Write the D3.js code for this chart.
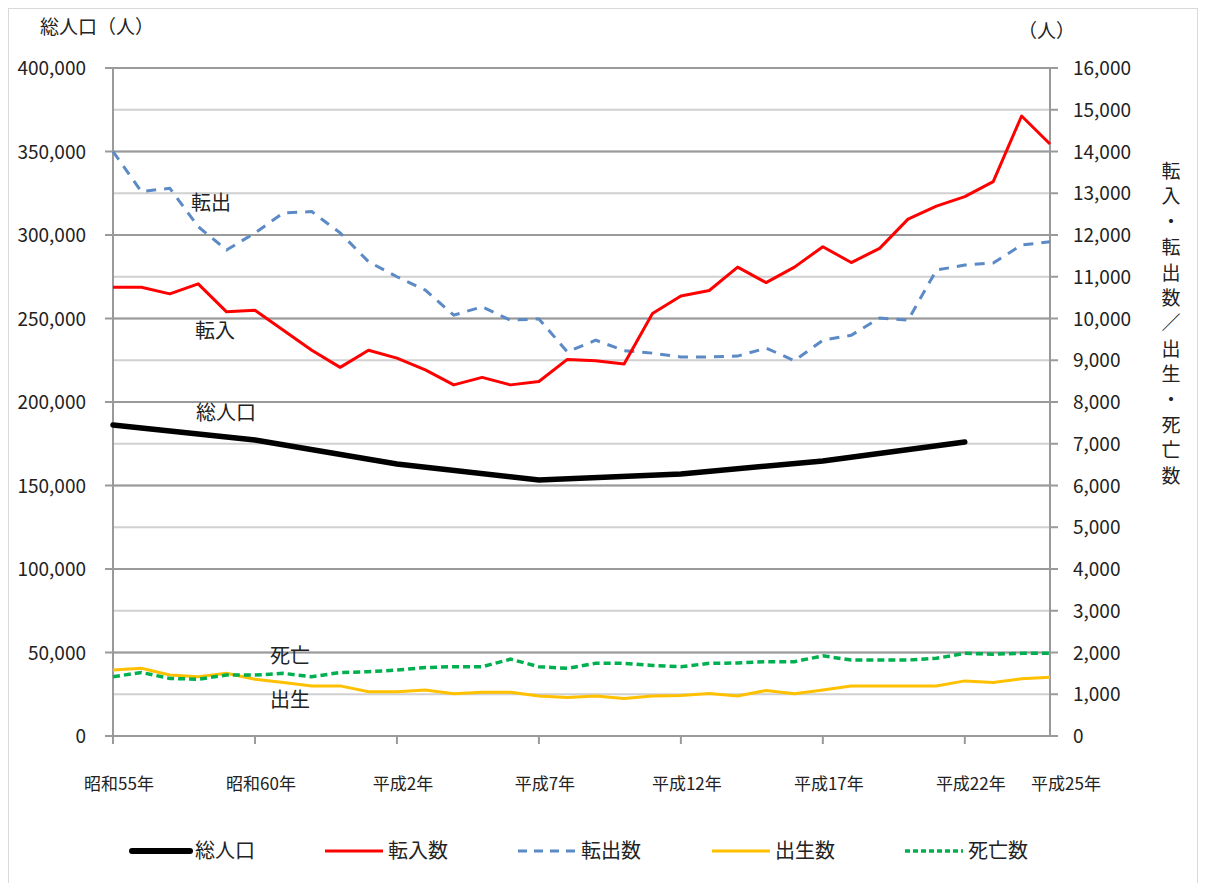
<!DOCTYPE html>
<html>
<head>
<meta charset="utf-8">
<script src="https://cdn.jsdelivr.net/npm/d3@7"></script>
<style>
  body { margin: 0; background: #fff; }
  text { font-family: "Noto Sans CJK JP", "Noto Sans", sans-serif; fill: #222; }
</style>
</head>
<body>
<svg id="chart" width="1205" height="883"></svg>
<script>
// years 昭和55年 (1980) .. 平成25年 (2013)
const years = d3.range(1980, 2014);

const tickYears = [1980, 1985, 1990, 1995, 2000, 2005, 2010, 2013];
const tickLabels = ["昭和55年", "昭和60年", "平成2年", "平成7年", "平成12年", "平成17年", "平成22年", "平成25年"];

// census years for 総人口
const popYears = [1980, 1985, 1990, 1995, 2000, 2005, 2010];
const population = [186200, 177200, 162900, 153300, 156900, 164700, 176000];

const moveIn = [10750, 10750, 10590, 10830, 10160, 10200, 9720, 9240, 8830, 9240,
  9050, 8770, 8410, 8590, 8410, 8490, 9020, 8990, 8910, 10120,
  10540, 10670, 11230, 10860, 11230, 11720, 11340, 11680, 12380, 12690,
  12920, 13280, 14850, 14180];

const moveOut = [14000, 13040, 13120, 12200, 11640, 12050, 12530, 12560, 12050, 11360,
  11000, 10680, 10080, 10280, 9960, 9990, 9200, 9480, 9230, 9170,
  9080, 9080, 9100, 9290, 8990, 9480, 9600, 10010, 9960, 11160,
  11280, 11330, 11760, 11840];

const births = [1580, 1620, 1460, 1420, 1500, 1360, 1280, 1200, 1200, 1060,
  1060, 1100, 1010, 1050, 1050, 960, 920, 960, 900, 960,
  970, 1020, 960, 1090, 1010, 1100, 1200, 1200, 1200, 1200,
  1320, 1280, 1370, 1410];

const deaths = [1420, 1520, 1380, 1360, 1460, 1460, 1500, 1420, 1520, 1540,
  1580, 1640, 1660, 1660, 1840, 1660, 1620, 1740, 1740, 1690,
  1660, 1740, 1750, 1780, 1780, 1920, 1820, 1820, 1820, 1860,
  1980, 1960, 1980, 1980];

const leftTicks = d3.range(0, 400001, 50000);
const rightTicks = d3.range(0, 16001, 1000);

const svg = d3.select("#chart");

// outer frame
svg.append("rect")
  .attr("x", 8.5).attr("y", 8.5)
  .attr("width", 1189).attr("height", 890)
  .attr("fill", "none").attr("stroke", "#d9d9d9");

const x = d3.scaleLinear().domain([1980, 2013]).range([113, 1050]);
const yL = d3.scaleLinear().domain([0, 400000]).range([736, 68]);
const yR = d3.scaleLinear().domain([0, 16000]).range([736, 68]);

// light gridlines (right axis)
svg.append("g").selectAll("line").data(rightTicks).enter().append("line")
  .attr("x1", 113).attr("x2", 1050)
  .attr("y1", d => yR(d)).attr("y2", d => yR(d))
  .attr("stroke", "#d0d0d0").attr("stroke-width", 2);

// major gridlines (left axis)
svg.append("g").selectAll("line").data(leftTicks).enter().append("line")
  .attr("x1", 105).attr("x2", 1050)
  .attr("y1", d => yL(d)).attr("y2", d => yL(d))
  .attr("stroke", "#9a9a9a").attr("stroke-width", 2);

// axes lines
svg.append("line").attr("x1", 113).attr("x2", 113).attr("y1", 68).attr("y2", 744)
  .attr("stroke", "#9a9a9a").attr("stroke-width", 2);
svg.append("line").attr("x1", 1050).attr("x2", 1050).attr("y1", 68).attr("y2", 736)
  .attr("stroke", "#9a9a9a").attr("stroke-width", 2);

// right ticks
svg.append("g").selectAll("line").data(rightTicks).enter().append("line")
  .attr("x1", 1050).attr("x2", 1058)
  .attr("y1", d => yR(d)).attr("y2", d => yR(d))
  .attr("stroke", "#9a9a9a").attr("stroke-width", 2);

// x ticks
svg.append("g").selectAll("line").data(tickYears.slice(0, 7)).enter().append("line")
  .attr("x1", d => x(d)).attr("x2", d => x(d))
  .attr("y1", 736).attr("y2", 744)
  .attr("stroke", "#9a9a9a").attr("stroke-width", 2);

const fmt = d3.format(",");

svg.append("g").selectAll("text").data(leftTicks).enter().append("text")
  .attr("x", 86).attr("y", d => yL(d) + 7)
  .attr("text-anchor", "end")
  .style("font-size", "19px")
  .text(d => fmt(d));

svg.append("g").selectAll("text").data(rightTicks).enter().append("text")
  .attr("x", 1073).attr("y", d => yR(d) + 7)
  .style("font-size", "19px")
  .text(d => fmt(d));

// last label is nudged right so it does not run into 平成22年
svg.append("g").selectAll("text").data(tickYears).enter().append("text")
  .attr("x", (d, i) => x(d) + (i === tickYears.length - 1 ? 16 : 6)).attr("y", 790)
  .attr("text-anchor", "middle")
  .style("font-size", "17px")
  .text((d, i) => tickLabels[i]);

// axis titles
svg.append("text").attr("x", 40).attr("y", 34).style("font-size", "19px").text("総人口（人）");
svg.append("text").attr("x", 1018).attr("y", 38).style("font-size", "19px").text("（人）");
const vtitle = "転入・転出数／出生・死亡数".split("");
svg.append("g").selectAll("text").data(vtitle).enter().append("text")
  .attr("x", 1171).attr("y", (d, i) => 178 + i * 25.4)
  .attr("text-anchor", "middle")
  .style("font-size", "19px")
  .text(d => d);

// series
const lineR = (arr) => d3.line().x((d, i) => x(years[i])).y(d => yR(d))(arr);

svg.append("path").attr("d", lineR(moveOut))
  .attr("fill", "none").attr("stroke", "#5b8ac6").attr("stroke-width", 3)
  .attr("stroke-dasharray", "10,8");

svg.append("path").attr("d", lineR(moveIn))
  .attr("fill", "none").attr("stroke", "#ff0000").attr("stroke-width", 3)
  .attr("stroke-linejoin", "round");

svg.append("path").attr("d", lineR(births))
  .attr("fill", "none").attr("stroke", "#ffc000").attr("stroke-width", 3);

svg.append("path").attr("d", lineR(deaths))
  .attr("fill", "none").attr("stroke", "#00b050").attr("stroke-width", 3.5)
  .attr("stroke-dasharray", "7,4");

svg.append("path")
  .attr("d", d3.line().x((d, i) => x(popYears[i])).y(d => yL(d))(population))
  .attr("fill", "none").attr("stroke", "#000").attr("stroke-width", 5.5)
  .attr("stroke-linecap", "round");

// inline labels
const notes = [
  {t: "転出", x: 191, y: 210},
  {t: "転入", x: 195, y: 338},
  {t: "総人口", x: 196, y: 420},
  {t: "死亡", x: 270, y: 663},
  {t: "出生", x: 270, y: 707}
];
svg.append("g").selectAll("text").data(notes).enter().append("text")
  .attr("x", d => d.x).attr("y", d => d.y)
  .style("font-size", "20px")
  .text(d => d.t);

// legend
const legend = [
  {name: "総人口", color: "#000", w: 6, dash: null, x: 132},
  {name: "転入数", color: "#ff0000", w: 3, dash: null, x: 325},
  {name: "転出数", color: "#5b8ac6", w: 3, dash: "9,7", x: 518},
  {name: "出生数", color: "#ffc000", w: 3, dash: null, x: 712},
  {name: "死亡数", color: "#00b050", w: 3.5, dash: "5,3", x: 905}
];
const lg = svg.append("g").selectAll("g").data(legend).enter().append("g");
lg.append("line")
  .attr("x1", d => d.x).attr("x2", d => d.x + 58)
  .attr("y1", 851).attr("y2", 851)
  .attr("stroke", d => d.color).attr("stroke-width", d => d.w)
  .attr("stroke-dasharray", d => d.dash)
  .attr("stroke-linecap", d => d.name === "総人口" ? "round" : "butt");
lg.append("text")
  .attr("x", d => d.x + 63).attr("y", 858)
  .style("font-size", "20px")
  .text(d => d.name);
</script>
</body>
</html>
